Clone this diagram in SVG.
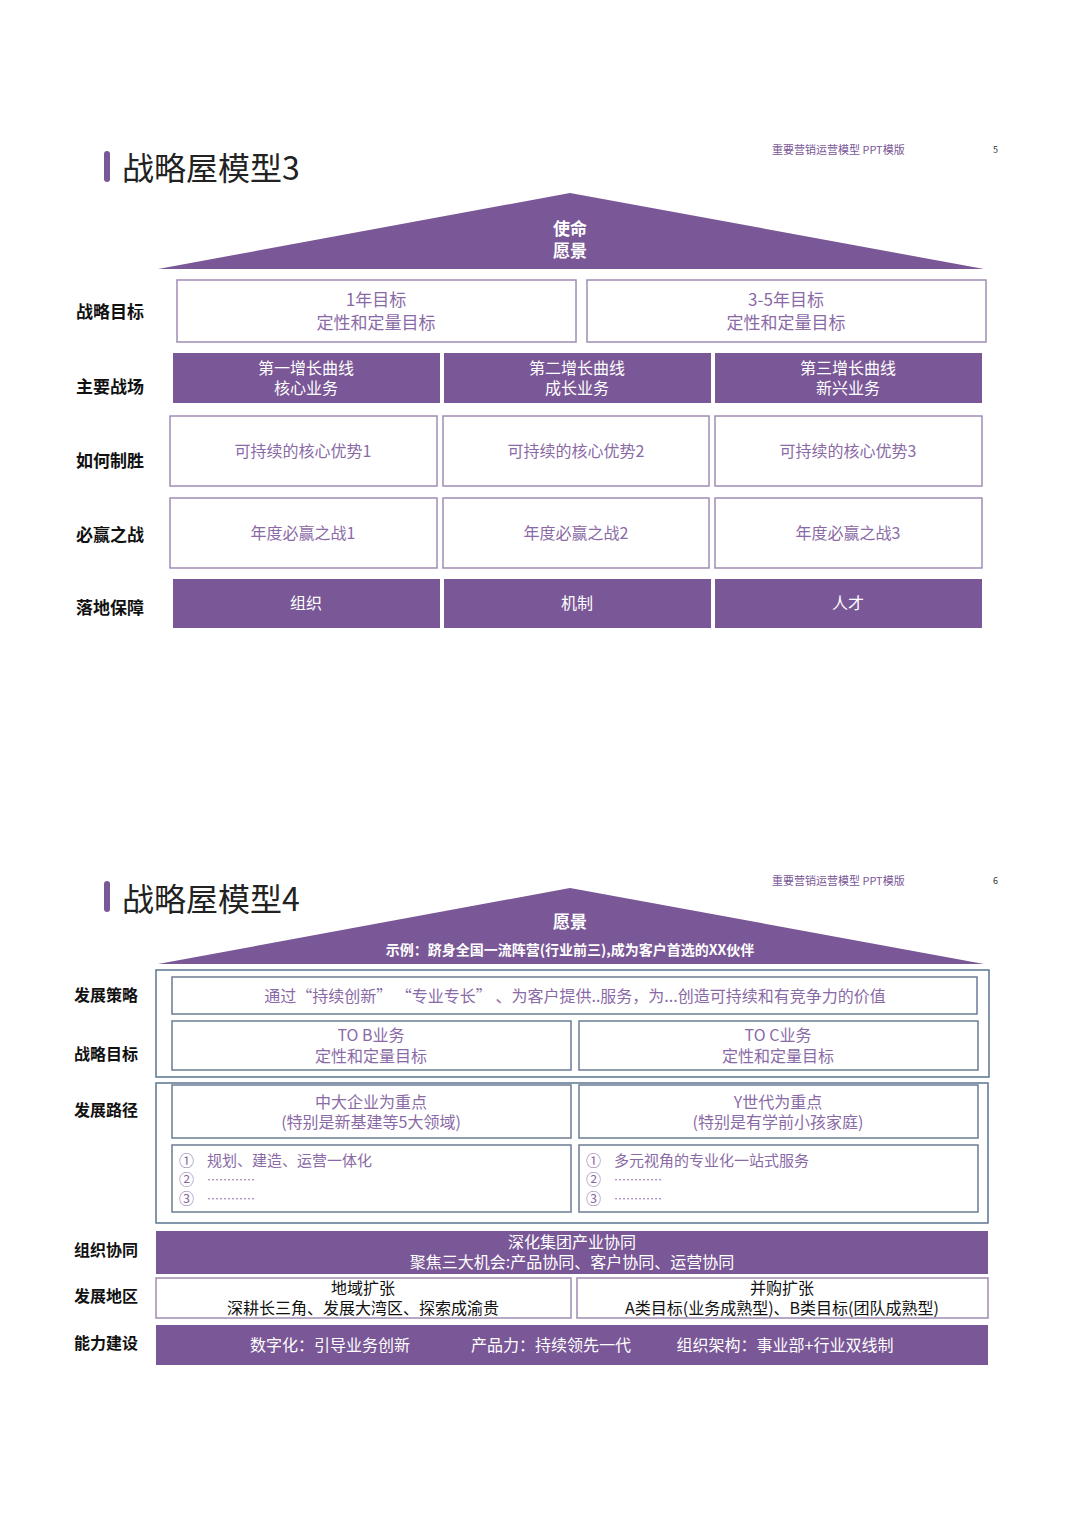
<svg xmlns="http://www.w3.org/2000/svg" width="1080" height="1527" viewBox="0 0 1080 1527">
<style>
text{font-family:"Noto Sans CJK SC","Noto Sans",sans-serif}
.t{font-size:32px;fill:#222}
.h{font-size:11px;fill:#7a5796}
.lb{font-size:17px;font-weight:bold;fill:#111}
.lb4{font-size:16px;font-weight:bold;fill:#111}
.f{fill:#7a5796}
.o{fill:#fff;stroke:#a08cb4;stroke-width:1.5}
.fr{fill:none;stroke:#5a7590;stroke-width:1.5}
.o4{fill:#fff;stroke:#6a7c92;stroke-width:1.5}
.w{font-size:16px;fill:#fff;text-anchor:middle}
.p{font-size:17px;fill:#8a6aa6;text-anchor:middle}
.p4{font-size:16px;fill:#8a6aa6;text-anchor:middle}
.k{font-size:16px;fill:#111;text-anchor:middle}
.rb{font-weight:bold;fill:#fff;text-anchor:middle}
.li{font-size:15px;fill:#8a6aa6}
.dt{font-size:12px;fill:#8a6aa6}
</style>
<rect width="1080" height="1527" fill="#fff"/>
<g id="page5">
<rect x="104" y="151" width="6" height="31" rx="3" class="f"/>
<text x="122" y="180" class="t">战略屋模型3</text>
<text x="772" y="154" class="h">重要营销运营模型 PPT模版</text>
<text x="993" y="153" class="h" style="font-size:9px;fill:#333">5</text>
<g id="roof3"><polygon points="158,269 570,193 984,269" class="f"/>
<text x="570" y="235" class="rb" font-size="17">使命</text><text x="570" y="257" class="rb" font-size="17">愿景</text></g>
<g id="labels3">
<text x="76" y="318" class="lb">战略目标</text><text x="76" y="393" class="lb">主要战场</text>
<text x="76" y="467" class="lb">如何制胜</text><text x="76" y="541" class="lb">必赢之战</text><text x="76" y="614" class="lb">落地保障</text></g>
<g id="goal1"><rect x="177" y="280" width="399" height="62" class="o"/><text x="376" y="306" class="p">1年目标</text><text x="376" y="329" class="p">定性和定量目标</text></g>
<g id="goal2"><rect x="587" y="280" width="399" height="62" class="o"/><text x="786" y="306" class="p">3-5年目标</text><text x="786" y="329" class="p">定性和定量目标</text></g>
<g id="b1"><rect x="173" y="353" width="267" height="50" class="f"/><text x="306" y="374" class="w">第一增长曲线</text><text x="306" y="394" class="w">核心业务</text></g>
<g id="b2"><rect x="444" y="353" width="267" height="50" class="f"/><text x="577" y="374" class="w">第二增长曲线</text><text x="577" y="394" class="w">成长业务</text></g>
<g id="b3"><rect x="715" y="353" width="267" height="50" class="f"/><text x="848" y="374" class="w">第三增长曲线</text><text x="848" y="394" class="w">新兴业务</text></g>
<g id="a1"><rect x="170" y="416" width="267" height="70" class="o"/><text x="303" y="457" class="p4">可持续的核心优势1</text></g>
<g id="a2"><rect x="443" y="416" width="266" height="70" class="o"/><text x="576" y="457" class="p4">可持续的核心优势2</text></g>
<g id="a3"><rect x="715" y="416" width="267" height="70" class="o"/><text x="848" y="457" class="p4">可持续的核心优势3</text></g>
<g id="w1"><rect x="170" y="498" width="267" height="70" class="o"/><text x="303" y="539" class="p4">年度必赢之战1</text></g>
<g id="w2"><rect x="443" y="498" width="266" height="70" class="o"/><text x="576" y="539" class="p4">年度必赢之战2</text></g>
<g id="w3"><rect x="715" y="498" width="267" height="70" class="o"/><text x="848" y="539" class="p4">年度必赢之战3</text></g>
<g id="s1"><rect x="173" y="579" width="267" height="49" class="f"/><text x="306" y="609" class="w">组织</text></g>
<g id="s2"><rect x="444" y="579" width="267" height="49" class="f"/><text x="577" y="609" class="w">机制</text></g>
<g id="s3"><rect x="715" y="579" width="267" height="49" class="f"/><text x="848" y="609" class="w">人才</text></g>
</g>
<g id="page6">
<rect x="104" y="881" width="6" height="31" rx="3" class="f"/>
<text x="122" y="911" class="t">战略屋模型4</text>
<text x="772" y="885" class="h">重要营销运营模型 PPT模版</text>
<text x="993" y="884" class="h" style="font-size:9px;fill:#333">6</text>
<g id="roof4"><polygon points="158,964 570,888 984,964" class="f"/>
<text x="570" y="928" class="rb" font-size="17">愿景</text>
<text x="570" y="955" class="rb" font-size="14">示例：跻身全国一流阵营(行业前三),成为客户首选的XX伙伴</text></g>
<g id="labels4">
<text x="74" y="1001" class="lb4">发展策略</text><text x="74" y="1060" class="lb4">战略目标</text><text x="74" y="1116" class="lb4">发展路径</text>
<text x="74" y="1256" class="lb4">组织协同</text><text x="74" y="1302" class="lb4">发展地区</text><text x="74" y="1349" class="lb4">能力建设</text></g>
<rect x="156" y="970" width="833" height="107" class="fr"/>
<rect x="156" y="1083" width="832" height="140" class="fr"/>
<g id="strategy"><rect x="172" y="977" width="805" height="37" class="o4"/><text x="575" y="1002" class="p4">通过“持续创新”  “专业专长” 、为客户提供..服务，为...创造可持续和有竞争力的价值</text></g>
<g id="tob"><rect x="172" y="1021" width="399" height="49" class="o4"/><text x="371" y="1041" class="p4">TO B业务</text><text x="371" y="1062" class="p4">定性和定量目标</text></g>
<g id="toc"><rect x="579" y="1021" width="399" height="49" class="o4"/><text x="778" y="1041" class="p4">TO C业务</text><text x="778" y="1062" class="p4">定性和定量目标</text></g>
<g id="path1"><rect x="172" y="1085" width="399" height="53" class="o4"/><text x="371" y="1108" class="p4">中大企业为重点</text><text x="371" y="1128" class="p4">(特别是新基建等5大领域)</text></g>
<g id="path2"><rect x="579" y="1085" width="399" height="53" class="o4"/><text x="778" y="1108" class="p4">Y世代为重点</text><text x="778" y="1128" class="p4">(特别是有学前小孩家庭)</text></g>
<g id="list1"><rect x="172" y="1145" width="399" height="67" class="o4"/>
<text x="179" y="1166" class="li">①</text><text x="207" y="1166" class="li" font-size="16">规划、建造、运营一体化</text>
<text x="179" y="1185" class="li">②</text><text x="207" y="1185" class="dt">…………</text>
<text x="179" y="1204" class="li">③</text><text x="207" y="1204" class="dt">…………</text></g>
<g id="list2"><rect x="579" y="1145" width="399" height="67" class="o4"/>
<text x="586" y="1166" class="li">①</text><text x="614" y="1166" class="li" font-size="16">多元视角的专业化一站式服务</text>
<text x="586" y="1185" class="li">②</text><text x="614" y="1185" class="dt">…………</text>
<text x="586" y="1204" class="li">③</text><text x="614" y="1204" class="dt">…………</text></g>
<g id="synergy"><rect x="156" y="1231" width="832" height="43" class="f"/><text x="572" y="1248" class="w">深化集团产业协同</text><text x="572" y="1268" class="w">聚焦三大机会:产品协同、客户协同、运营协同</text></g>
<g id="region1"><rect x="156" y="1278" width="415" height="40" class="o"/><text x="363" y="1294" class="k">地域扩张</text><text x="363" y="1314" class="k">深耕长三角、发展大湾区、探索成渝贵</text></g>
<g id="region2"><rect x="577" y="1278" width="411" height="40" class="o"/><text x="782" y="1294" class="k">并购扩张</text><text x="782" y="1314" class="k">A类目标(业务成熟型)、B类目标(团队成熟型)</text></g>
<g id="capability"><rect x="156" y="1325" width="832" height="40" class="f"/>
<text x="330" y="1351" class="w">数字化：引导业务创新</text><text x="551" y="1351" class="w">产品力：持续领先一代</text><text x="785" y="1351" class="w">组织架构：事业部+行业双线制</text></g>
</g>
<g id="connectors"/>
</svg>
